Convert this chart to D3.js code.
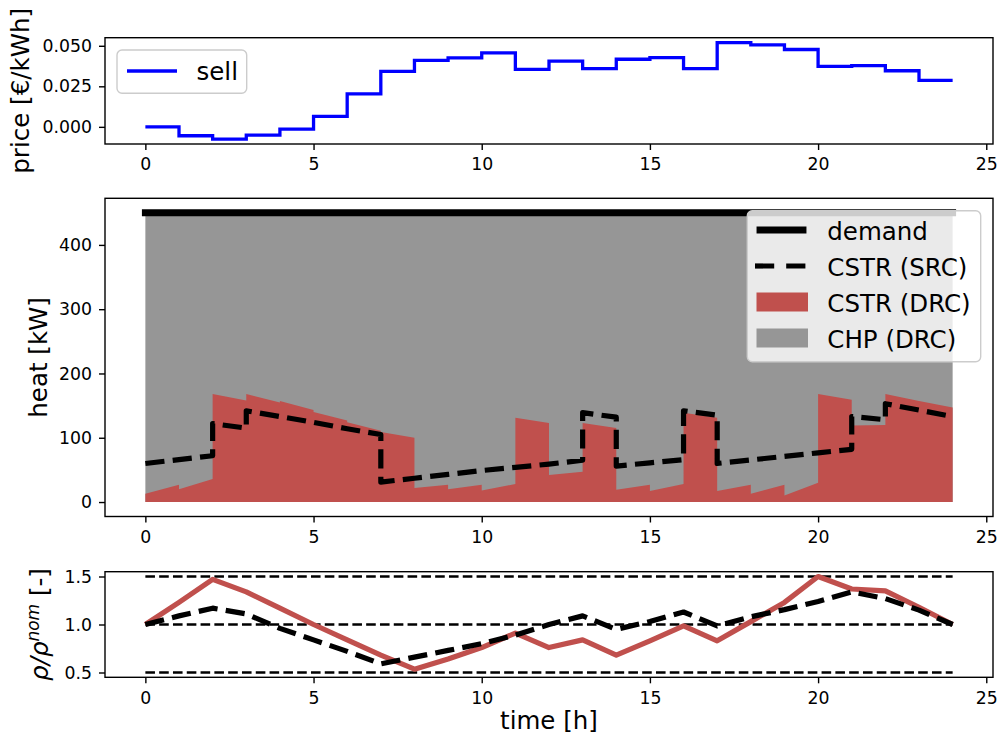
<!DOCTYPE html>
<html>
<head>
<meta charset="utf-8">
<script src="https://cdn.jsdelivr.net/npm/d3@7"></script>
<style>
body { margin: 0; background: #fff; }
svg { display: block; font-family: "DejaVu Sans", sans-serif; }
</style>
</head>
<body>
<svg id="chart" width="1000" height="736"></svg>
<script>
// x axis (hours)
var hourTicks = [0, 5, 10, 15, 20, 25];

// top panel: sell price per hour
var sellPrice = [0.000, -0.0055, -0.0076, -0.0051, -0.0014, 0.0065, 0.0203, 0.0342,
                 0.0410, 0.0425, 0.0456, 0.0355, 0.0405, 0.0359, 0.0417, 0.0427,
                 0.0359, 0.0520, 0.0505, 0.0477, 0.0373, 0.0377, 0.0346, 0.0287];
var priceTicks = [0.000, 0.025, 0.050];

// middle panel: heat, values at start / end of every hour
var demand = [450, 450, 450, 450, 450, 450, 450, 450, 450, 450, 450, 450, 450,
              450, 450, 450, 450, 450, 450, 450, 450, 450, 450, 450, 450];
var cstrDrcStart = [13, 20, 168, 168, 157, 140, 124, 109, 22, 20, 18, 131,
                    42, 123, 19, 17, 139, 17, 13, 10, 168, 119, 168, 157];
var cstrDrcEnd   = [27, 36, 158, 155, 143, 127, 111, 100, 27, 27, 28, 123,
                    47, 115, 27, 28, 131, 27, 27, 30, 159, 120, 157, 147];
var cstrSrcStart = [60, 66, 122, 142, 133, 124, 114, 31, 37, 43, 49, 54,
                    59, 139, 56, 61, 142, 60, 65.5, 71, 76.5, 133, 153, 143];
var cstrSrcEnd   = [66, 72, 115, 133, 124, 114, 105, 37, 43, 49, 54, 59,
                    65, 132, 61, 66, 135, 65.5, 71, 76.5, 82, 128, 143, 133];
var heatTicks = [0, 100, 200, 300, 400];

// bottom panel: relative density
var rhoDrc = [1.0, 1.23, 1.47, 1.34, 1.17, 1.0, 0.84, 0.68, 0.535, 0.64, 0.76, 0.91, 0.76,
              0.84, 0.68, 0.83, 0.985, 0.83, 1.03, 1.23, 1.5, 1.37, 1.35, 1.18, 1.0];
var rhoSrc = [1.0, 1.09, 1.17, 1.11, 0.96, 0.84, 0.72, 0.59, 0.66, 0.73, 0.80, 0.89, 1.0,
              1.09, 0.95, 1.03, 1.13, 0.985, 1.08, 1.155, 1.24, 1.34, 1.27, 1.15, 1.0];
var rhoBounds = [0.5, 1.0, 1.5];
var rhoTicks = [0.5, 1.0, 1.5];

var RED = "#c0504d", GRAY = "#969696", BLUE = "#0000ff";
var TICK_FONT = "17.3px", LABEL_FONT = "24.5px";

var svg = d3.select("#chart");
var left = 105, right = 993;
var x = d3.scaleLinear().domain(pad([0, 24])).range([left, right]);

function pad(ext) {
    var m = (ext[1] - ext[0]) * 0.05;
    return [ext[0] - m, ext[1] + m];
}

// hourly start/end values -> points with jumps at each full hour
function hourly(start, end) {
    var pts = [];
    for (var h = 0; h < start.length; h++) {
        pts.push([h, start[h]]);
        pts.push([h + 1, end[h]]);
    }
    return pts;
}

function styleAxis(g) {
    g.select(".domain").remove();
    g.selectAll(".tick line").attr("stroke", "#000").attr("stroke-width", 1.4);
    g.selectAll(".tick text")
        .attr("fill", "#000")
        .style("font-family", "DejaVu Sans")
        .style("font-size", TICK_FONT);
}

function frame(top, bottom, y, yTicks, fmt) {
    svg.append("g")
        .attr("transform", "translate(0," + bottom + ")")
        .call(d3.axisBottom(x).tickValues(hourTicks).tickSize(6).tickPadding(8).tickFormat(d3.format("d")))
        .call(styleAxis);
    svg.append("g")
        .attr("transform", "translate(" + left + ",0)")
        .call(d3.axisLeft(y).tickValues(yTicks).tickSize(6).tickPadding(7).tickFormat(fmt))
        .call(styleAxis);
    svg.append("rect")
        .attr("x", left).attr("y", top)
        .attr("width", right - left).attr("height", bottom - top)
        .attr("fill", "none").attr("stroke", "#000").attr("stroke-width", 1.4);
}

function yLabel(cx, cy, txt) {
    return svg.append("text")
        .attr("transform", "translate(" + cx + "," + cy + ") rotate(-90)")
        .attr("text-anchor", "middle")
        .style("font-size", LABEL_FONT)
        .text(txt);
}

function legendBox(x0, y0, w, h) {
    svg.append("rect")
        .attr("x", x0).attr("y", y0).attr("width", w).attr("height", h)
        .attr("rx", 5).attr("fill", "#fff").attr("fill-opacity", 0.8)
        .attr("stroke", "#cccccc").attr("stroke-width", 1.4);
}

// ---------- top: price ----------
(function() {
    var top = 37.7, bottom = 144;
    var y = d3.scaleLinear().domain(pad(d3.extent(sellPrice))).range([bottom, top]);
    var pts = sellPrice.map(function(v, i) { return [i, v]; });
    pts.push([24, sellPrice[sellPrice.length - 1]]);

    svg.append("path")
        .datum(pts)
        .attr("fill", "none").attr("stroke", BLUE).attr("stroke-width", 3.3)
        .attr("d", d3.line().curve(d3.curveStepAfter)
            .x(function(d) { return x(d[0]); })
            .y(function(d) { return y(d[1]); }));

    frame(top, bottom, y, priceTicks, d3.format(".3f"));
    yLabel(29, (top + bottom) / 2, "price [€/kWh]");

    legendBox(117, 50, 129.7, 43.3);
    svg.append("line").attr("x1", 127).attr("x2", 177).attr("y1", 71).attr("y2", 71)
        .attr("stroke", BLUE).attr("stroke-width", 3.3);
    svg.append("text").attr("x", 196.5).attr("y", 79.5)
        .style("font-size", LABEL_FONT).text("sell");
})();

// ---------- middle: heat ----------
(function() {
    var top = 198.3, bottom = 516.5;
    var y = d3.scaleLinear().domain(pad([0, d3.max(demand)])).range([bottom, top]);
    var drc = hourly(cstrDrcStart, cstrDrcEnd);
    var src = hourly(cstrSrcStart, cstrSrcEnd);

    // CHP (DRC) fills up to the demand, CSTR (DRC) lies on the bottom
    svg.append("path")
        .datum(demand)
        .attr("fill", GRAY)
        .attr("d", d3.area()
            .x(function(d, i) { return x(i); })
            .y0(y(0))
            .y1(function(d) { return y(d); }));

    svg.append("path")
        .datum(drc)
        .attr("fill", RED)
        .attr("d", d3.area()
            .x(function(d) { return x(d[0]); })
            .y0(y(0))
            .y1(function(d) { return y(d[1]); }));

    svg.append("path")
        .datum(demand)
        .attr("fill", "none").attr("stroke", "#000").attr("stroke-width", 6.9)
        .attr("stroke-linecap", "square")
        .attr("d", d3.line()
            .x(function(d, i) { return x(i); })
            .y(function(d) { return y(d); }));

    svg.append("path")
        .datum(src)
        .attr("fill", "none").attr("stroke", "#000").attr("stroke-width", 5.2)
        .attr("stroke-dasharray", "19.2,8.3").attr("stroke-linejoin", "round")
        .attr("d", d3.line()
            .x(function(d) { return x(d[0]); })
            .y(function(d) { return y(d[1]); }));

    frame(top, bottom, y, heatTicks, d3.format("d"));
    yLabel(47, (top + bottom) / 2, "heat [kW]");

    legendBox(747.3, 210.7, 233.4, 151);
    var names = ["demand", "CSTR (SRC)", "CSTR (DRC)", "CHP (DRC)"];
    names.forEach(function(n, i) {
        var b = 240 + i * 36, c = b - 10;
        if (i === 0) {
            svg.append("line").attr("x1", 760).attr("x2", 803).attr("y1", c).attr("y2", c)
                .attr("stroke", "#000").attr("stroke-width", 6.9).attr("stroke-linecap", "square");
        } else if (i === 1) {
            svg.append("line").attr("x1", 755).attr("x2", 808).attr("y1", c).attr("y2", c)
                .attr("stroke", "#000").attr("stroke-width", 5.2).attr("stroke-dasharray", "19.2,12");
        } else {
            svg.append("rect").attr("x", 756.5).attr("y", c - 9.5).attr("width", 51.5).attr("height", 19)
                .attr("fill", i === 2 ? RED : GRAY);
        }
        svg.append("text").attr("x", 827.3).attr("y", b)
            .style("font-size", LABEL_FONT).text(n);
    });
})();

// ---------- bottom: rho ----------
(function() {
    var top = 571.7, bottom = 677.3;
    var y = d3.scaleLinear().domain(pad(d3.extent(rhoBounds))).range([bottom, top]);
    var line = d3.line()
        .x(function(d, i) { return x(i); })
        .y(function(d) { return y(d); });

    rhoBounds.forEach(function(b) {
        svg.append("line")
            .attr("x1", x(0)).attr("x2", x(24)).attr("y1", y(b)).attr("y2", y(b))
            .attr("stroke", "#000").attr("stroke-width", 2.6).attr("stroke-dasharray", "9.6,4.2");
    });

    svg.append("path")
        .datum(rhoDrc)
        .attr("fill", "none").attr("stroke", RED).attr("stroke-width", 5.2)
        .attr("stroke-linejoin", "round")
        .attr("d", line);

    svg.append("path")
        .datum(rhoSrc)
        .attr("fill", "none").attr("stroke", "#000").attr("stroke-width", 5.2)
        .attr("stroke-dasharray", "19.2,8.3").attr("stroke-linejoin", "round")
        .attr("d", line);

    frame(top, bottom, y, rhoTicks, d3.format(".1f"));

    var lab = yLabel(48, (top + bottom) / 2, "");
    lab.append("tspan").style("font-style", "italic").text("ρ/ρ");
    lab.append("tspan").style("font-style", "italic").style("font-size", "17px")
        .attr("dy", -9).text("nom");
    lab.append("tspan").attr("dy", 9).text(" [-]");

    svg.append("text")
        .attr("x", (left + right) / 2).attr("y", 729)
        .attr("text-anchor", "middle")
        .style("font-size", LABEL_FONT)
        .text("time [h]");
})();
</script>
</body>
</html>
